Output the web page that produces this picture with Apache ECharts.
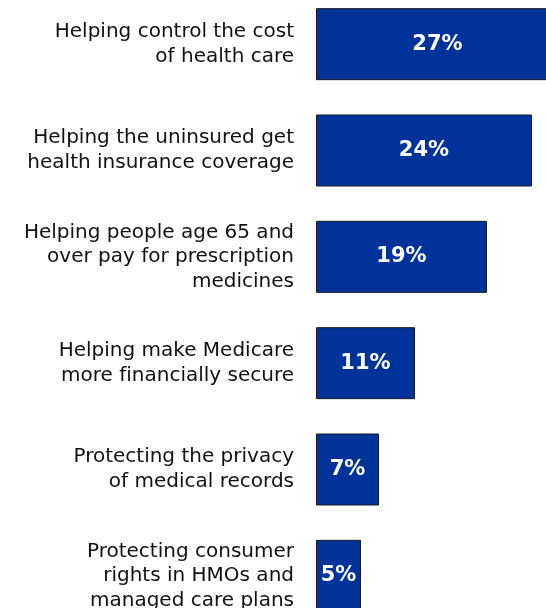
<!DOCTYPE html>
<html>
<head>
<meta charset="utf-8">
<script src="https://cdn.jsdelivr.net/npm/echarts@6/dist/echarts.min.js"></script>
<style>
  html, body { margin: 0; padding: 0; background: #fff; }
  #chart { width: 546px; height: 608px; }
</style>
</head>
<body>
<div id="chart"></div>
<script>
// Priorities, top to bottom (a zero-width non-joiner keeps "fi" from fusing)
const categories = [
  'Helping control the cost\nof health care',
  'Helping the uninsured get\nhealth insurance coverage',
  'Helping people age 65 and\nover pay for prescription\nmedicines',
  'Helping make Medicare\nmore f\u200Cinancially secure',
  'Protecting the privacy\nof medical records',
  'Protecting consumer\nrights in HMOs and\nmanaged care plans'
];
const percents = [27, 24, 19, 11, 7, 5];

const chart = echarts.init(document.getElementById('chart'), null, { renderer: 'canvas' });
chart.setOption({
  animation: false,
  backgroundColor: '#ffffff',
  grid: {
    left: 316, top: -9, width: 270, height: 638,
    containLabel: false, outerBoundsMode: 'none'
  },
  xAxis: {
    type: 'value', min: 0, max: 30, show: false
  },
  yAxis: {
    type: 'category',
    data: categories,
    inverse: true,
    axisLine: { show: false },
    axisTick: { show: false },
    axisLabel: {
      margin: 22,
      align: 'right',
      color: '#111111',
      fontFamily: 'DejaVu Sans',
      fontSize: 20,
      lineHeight: 24.5
    }
  },
  series: [{
    type: 'bar',
    data: percents,
    barWidth: 72,
    itemStyle: { color: '#003399', borderColor: '#1a1a1a', borderWidth: 1 },
    label: {
      show: true,
      position: 'inside',
      formatter: '{c}%',
      color: '#ffffff',
      fontFamily: 'DejaVu Sans',
      fontWeight: 'bold',
      fontSize: 21
    }
  }]
});
</script>
</body>
</html>
